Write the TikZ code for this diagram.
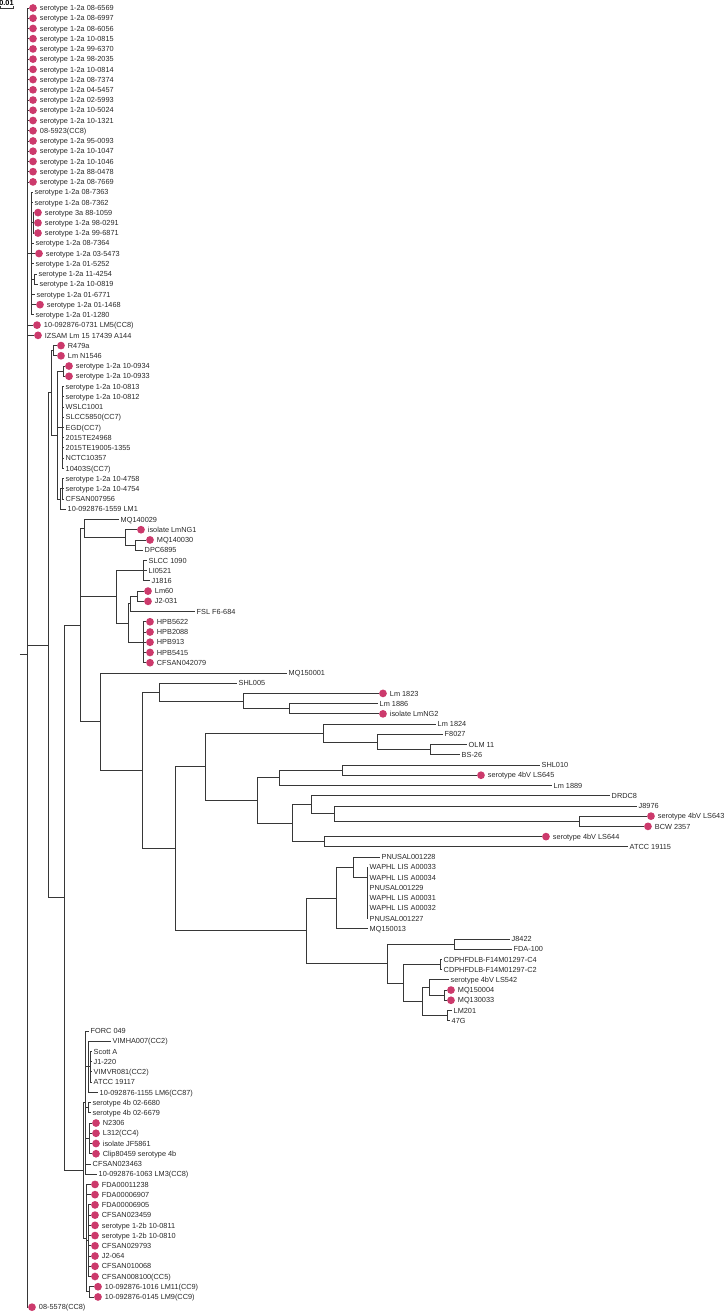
\documentclass[tikz,border=0pt]{standalone}
\usepackage{fontspec}
\setmainfont{Liberation Sans}
\usetikzlibrary{calc}
\definecolor{tdot}{RGB}{204,58,108}
\definecolor{tline}{RGB}{55,55,55}
\definecolor{ttext}{RGB}{40,40,40}
\tikzset{
  branch/.style={draw=tline,line width=0.6pt},
  lab/.style={anchor=west,inner sep=0pt,text=ttext,
              font=\fontsize{5.5}{6}\selectfont,text height=4pt,text depth=0pt},
  dot/.style={circle,fill=tdot,inner sep=0pt,minimum size=5.8pt},
  scalelab/.style={inner sep=0pt,font=\bfseries\fontsize{5.5}{6}\selectfont},
}
% internal node: name, parent, x, row
\newcommand{\clade}[4]{\coordinate (#1) at (#3,#4); \draw[branch] (#2) |- (#1);}
% leaf without / with marker
\newcommand{\tip}[5]{\clade{#1}{#2}{#3}{#4}\node[lab] (#1-lab) at ([xshift=1.1pt]#1) {#5};}
\newcommand{\tipd}[5]{\clade{#1}{#2}{#3}{#4}\node[dot] (#1-dot) at ([xshift=3pt]#1) {};
  \node[lab] (#1-lab) at ([xshift=8pt]#1) {#5};}

\begin{document}
\begin{tikzpicture}[x=0.75pt,y=-7.6725pt]
  \useasboundingbox (0,0.218) rectangle (725,128.57);
  % scale bar
  \node[scalelab] (sclab) at (6.5,0.52) {0.01};
  \coordinate (sb0) at (0.5,1.02);
  \coordinate (sb1) at (13,1.02);
  \draw[branch] ([yshift=1.6pt]sb0) -- (sb0) -- (sb1) -- ([yshift=1.6pt]sb1);
  % root
  \coordinate (root) at (27,64.2);
  \coordinate (stub) at (20,64.2);
  \draw[branch] (stub) -- (root);

  % lineage II, CC8 block
  \foreach \txt [count=\nr] in {serotype 1-2a 08-6569,serotype 1-2a 08-6997,
      serotype 1-2a 08-6056,serotype 1-2a 10-0815,serotype 1-2a 99-6370,
      serotype 1-2a 98-2035,serotype 1-2a 10-0814,serotype 1-2a 08-7374,
      serotype 1-2a 04-5457,serotype 1-2a 02-5993,serotype 1-2a 10-5024,
      serotype 1-2a 10-1321,08-5923(CC8),serotype 1-2a 95-0093,
      serotype 1-2a 10-1047,serotype 1-2a 10-1046,serotype 1-2a 88-0478,
      serotype 1-2a 08-7669}
    {\tipd{l\nr}{root}{29}{\nr}{\txt}}
  \clade{t2}{root}{31}{25}
  \tip{l19}{t2}{33}{19}{serotype 1-2a 08-7363}
  \tip{l20}{t2}{33}{20}{serotype 1-2a 08-7362}
  \clade{t3}{t2}{33}{22}
  \tipd{l21}{t3}{34}{21}{serotype 3a 88-1059}
  \tipd{l22}{t3}{34}{22}{serotype 1-2a 98-0291}
  \tipd{l23}{t3}{34}{23}{serotype 1-2a 99-6871}
  \tip{l24}{t2}{34}{24}{serotype 1-2a 08-7364}
  \tipd{l25}{t2}{35}{25}{serotype 1-2a 03-5473}
  \tip{l26}{t2}{34}{26}{serotype 1-2a 01-5252}
  \clade{t4}{t2}{34}{27.5}
  \tip{l27}{t4}{37}{27}{serotype 1-2a 11-4254}
  \tip{l28}{t4}{38}{28}{serotype 1-2a 10-0819}
  \tip{l29}{t2}{35}{29}{serotype 1-2a 01-6771}
  \tipd{l30}{t2}{36}{30}{serotype 1-2a 01-1468}
  \tip{l31}{t2}{34}{31}{serotype 1-2a 01-1280}
  \tipd{l32}{root}{33}{32}{10-092876-0731 LM5(CC8)}
  \tipd{l33}{root}{34}{33}{IZSAM Lm 15 17439 A144}

  % CC7 block
  \clade{b}{root}{48}{63.3}
  \clade{k}{b}{51}{38.625}
  \clade{r}{k}{53}{34.5}
  \tipd{l34}{r}{57}{34}{R479a}
  \tipd{l35}{r}{57}{35}{Lm N1546}
  \clade{g}{k}{57}{42.75}
  \clade{g1}{g}{63}{36.5}
  \tipd{l36}{g1}{65}{36}{serotype 1-2a 10-0934}
  \tipd{l37}{g1}{65}{37}{serotype 1-2a 10-0933}
  \clade{g2}{g}{62}{42}
  \foreach \txt [count=\nr from 38] in {serotype 1-2a 10-0813,serotype 1-2a 10-0812,
      WSLC1001,SLCC5850(CC7),EGD(CC7),2015TE24968,2015TE19005-1355,NCTC10357,10403S(CC7)}
    {\tip{l\nr}{g2}{64}{\nr}{\txt}}
  \clade{g3}{g}{60}{49}
  \clade{g4}{g3}{62}{48}
  \foreach \txt [count=\nr from 47] in {serotype 1-2a 10-4758,serotype 1-2a 10-4754,CFSAN007956}
    {\tip{l\nr}{g4}{64}{\nr}{\txt}}
  \tip{l50}{g3}{66}{50}{10-092876-1559 LM1}

  % lineage III / IV
  \clade{ll}{b}{64}{87.97}
  \clade{l2}{ll}{80}{61.32}
  \clade{m}{l2}{84}{51.875}
  \tip{l51}{m}{119}{51}{MQ140029}
  \clade{n}{m}{125}{52.75}
  \tipd{l52}{n}{137}{52}{isolate LmNG1}
  \clade{p}{n}{135}{53.5}
  \tipd{l53}{p}{146}{53}{MQ140030}
  \tip{l54}{p}{143}{54}{DPC6895}
  \clade{kq}{l2}{116}{58.5625}
  \clade{q}{kq}{143}{56}
  \tip{l55}{q}{147}{55}{SLCC 1090}
  \tip{l56}{q}{147}{56}{LI0521}
  \tip{l57}{q}{150}{57}{J1816}
  \clade{s}{kq}{128}{61.125}
  \clade{t}{s}{130}{59.25}
  \clade{u}{t}{137}{58.5}
  \tipd{l58}{u}{144}{58}{Lm60}
  \tipd{l59}{u}{144}{59}{J2-031}
  \tip{l60}{t}{195}{60}{FSL F6-684}
  \clade{h}{s}{143}{63}
  \foreach \txt [count=\nr from 61] in {HPB5622,HPB2088,HPB913,HPB5415,CFSAN042079}
    {\tipd{l\nr}{h}{146}{\nr}{\txt}}
  \clade{v}{l2}{100}{70.765625}
  \tip{l66}{v}{287}{66}{MQ150001}
  \clade{w}{v}{142}{75.53125}
  \clade{x}{w}{159}{67.875}
  \tip{l67}{x}{237}{67}{SHL005}
  \clade{y}{x}{243}{68.75}
  \tipd{l68}{y}{379}{68}{Lm 1823}
  \clade{z}{y}{289}{69.5}
  \tip{l69}{z}{378}{69}{Lm 1886}
  \tipd{l70}{z}{379}{70}{isolate LmNG2}
  \clade{aa}{w}{175}{83.1875}
  \clade{ab}{aa}{205}{75.171875}
  \clade{ad}{ab}{323}{71.875}
  \tip{l71}{ad}{436}{71}{Lm 1824}
  \clade{ae}{ad}{377}{72.75}
  \tip{l72}{ae}{443}{72}{F8027}
  \clade{af}{ae}{430}{73.5}
  \tip{l73}{af}{467}{73}{OLM 11}
  \tip{l74}{af}{460}{74}{BS-26}
  \clade{ag}{ab}{257}{78.46875}
  \clade{ah}{ag}{279}{76.25}
  \clade{aj}{ah}{342}{75.5}
  \tip{l75}{aj}{540}{75}{SHL010}
  \tipd{l76}{aj}{477}{76}{serotype 4bV LS645}
  \tip{l77}{ah}{552}{77}{Lm 1889}
  \clade{ai}{ag}{292}{80.6875}
  \clade{ak}{ai}{311}{78.875}
  \tip{l78}{ak}{610}{78}{DRDC8}
  \clade{am}{ak}{334}{79.75}
  \tip{l79}{am}{637}{79}{J8976}
  \clade{an}{am}{579}{80.5}
  \tipd{l80}{an}{647}{80}{serotype 4bV LS643}
  \tipd{l81}{an}{644}{81}{BCW 2357}
  \clade{al}{ai}{324}{82.5}
  \tipd{l82}{al}{542}{82}{serotype 4bV LS644}
  \tip{l83}{al}{628}{83}{ATCC 19115}
  \clade{ac}{aa}{306}{91.203125}
  \clade{ao}{ac}{336}{88}
  \clade{aq}{ao}{353}{85}
  \tip{l84}{aq}{380}{84}{PNUSAL001228}
  \clade{ar}{aq}{367}{86}
  \foreach \txt [count=\nr from 85] in {WAPHL LIS A00033,WAPHL LIS A00034,PNUSAL001229,
      WAPHL LIS A00031,WAPHL LIS A00032,PNUSAL001227}
    {\tip{l\nr}{ar}{368}{\nr}{\txt}}
  \tip{l91}{ao}{368}{91}{MQ150013}
  \clade{ap}{ac}{387}{94.40625}
  \clade{as}{ap}{454}{92.5}
  \tip{l92}{as}{510}{92}{J8422}
  \tip{l93}{as}{512}{93}{FDA-100}
  \clade{at}{ap}{403}{96.3125}
  \clade{au}{at}{440}{94.5}
  \tip{l94}{au}{442}{94}{CDPHFDLB-F14M01297-C4}
  \tip{l95}{au}{442}{95}{CDPHFDLB-F14M01297-C2}
  \clade{av}{at}{422}{98.125}
  \clade{aw}{av}{429}{96.75}
  \tip{l96}{aw}{449}{96}{serotype 4bV LS542}
  \clade{ax}{aw}{444}{97.5}
  \tipd{l97}{ax}{447}{97}{MQ150004}
  \tipd{l98}{ax}{447}{98}{MQ130033}
  \clade{ay}{av}{447}{99.5}
  \tip{l99}{ay}{452}{99}{LM201}
  \tip{l100}{ay}{450}{100}{47G}

  % lineage I
  \clade{li}{ll}{83}{114.625}
  \clade{c1}{li}{85}{108}
  \tip{l101}{c1}{89}{101}{FORC 049}
  \clade{c2}{c1}{88}{104.5}
  \tip{l102}{c2}{111}{102}{VIMHA007(CC2)}
  \clade{c3}{c2}{90}{104.5}
  \foreach \txt [count=\nr from 103] in {Scott A,J1-220,VIMVR081(CC2),ATCC 19117}
    {\tip{l\nr}{c3}{92}{\nr}{\txt}}
  \tip{l107}{c2}{98}{107}{10-092876-1155 LM6(CC87)}
  \clade{c4}{c1}{88}{108.5}
  \tip{l108}{c4}{91}{108}{serotype 4b 02-6680}
  \tip{l109}{c4}{91}{109}{serotype 4b 02-6679}
  \clade{c5}{c1}{89}{111.5}
  \foreach \txt [count=\nr from 110] in {N2306,L312(CC4),isolate JF5861,Clip80459 serotype 4b}
    {\tipd{l\nr}{c5}{92}{\nr}{\txt}}
  \tip{l114}{c1}{91}{114}{CFSAN023463}
  \tip{l115}{c1}{97}{115}{10-092876-1063 LM3(CC8)}
  \clade{c6}{li}{86}{121.25}
  \tipd{l116}{c6}{91}{116}{FDA00011238}
  \tipd{l117}{c6}{91}{117}{FDA00006907}
  \clade{c7}{c6}{88}{121.5}
  \foreach \txt [count=\nr from 118] in {FDA00006905,CFSAN023459,serotype 1-2b 10-0811,
      serotype 1-2b 10-0810,CFSAN029793,J2-064,CFSAN010068,CFSAN008100(CC5)}
    {\tipd{l\nr}{c7}{91}{\nr}{\txt}}
  \clade{c8}{c6}{89}{126.5}
  \tipd{l126}{c8}{94}{126}{10-092876-1016 LM11(CC9)}
  \tipd{l127}{c8}{94}{127}{10-092876-0145 LM9(CC9)}

  \tipd{l128}{root}{28}{128}{08-5578(CC8)}
\end{tikzpicture}
\end{document}
